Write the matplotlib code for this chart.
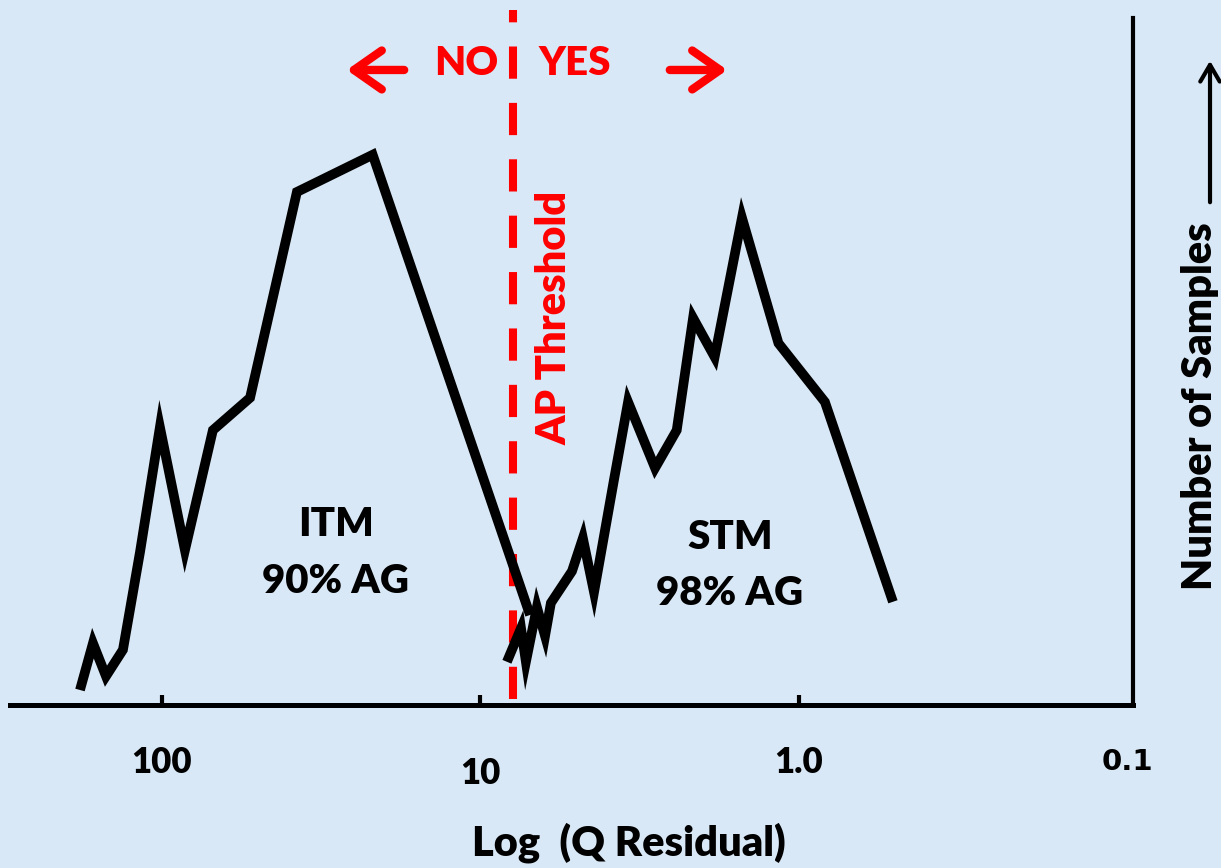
import matplotlib
matplotlib.use('Agg')
import matplotlib.pyplot as plt
from matplotlib.patches import FancyArrowPatch
from matplotlib.transforms import blended_transform_factory

# ITM curve (Q residual, number of samples)
itm_q = [180.9, 164.7, 149.9, 132.6, 117.2, 101.5, 84.7, 69.2, 52.9, 37.7, 21.8, 6.99]
itm_n = [2.5, 10.3, 4.8, 9.2, 25.5, 46.3, 25.8, 45.8, 51.2, 85.5, 91.7, 15.0]

# STM curve
stm_q = [8.26, 7.46, 7.20, 6.65, 6.27, 6.01, 5.16, 4.77, 4.40, 3.81, 3.44, 2.83,
         2.42, 2.15, 1.84, 1.51, 1.16, 0.829, 0.507]
stm_n = [7.2, 12.8, 7.2, 16.3, 11.5, 17.0, 22.3, 27.8, 18.8, 37.5, 50.5, 39.5,
         45.8, 64.5, 58.0, 81.2, 60.3, 50.5, 17.2]

ap_threshold = 7.9
tick_vals = [100, 10, 1, 0.1]
tick_texts = ['100', '10', '1.0', '0.1']

bg = '#d9e8f6'
red = '#ff0000'
font = 'Lato'
w = 'heavy'

fig = plt.figure(figsize=(12.21, 8.68), dpi=100, facecolor=bg)
ax = fig.add_axes([0.0082, 0.1878, 0.9197, 0.7915])
ax.set_facecolor(bg)
ax.set_xscale('log')
ax.set_xlim(300, 0.0894)
ax.set_ylim(0, 114.5)

ax.plot(itm_q, itm_n, color='black', lw=7, solid_joinstyle='miter', solid_capstyle='butt')
ax.plot(stm_q, stm_n, color='black', lw=7, solid_joinstyle='miter', solid_capstyle='butt')

# threshold line (runs past the top of the axes)
ax.plot([ap_threshold, ap_threshold], [0.0087, 1.0116], color=red, lw=5.8,
        dashes=(4, 3), transform=blended_transform_factory(ax.transData, ax.transAxes),
        clip_on=False, zorder=1)

for s in ['top', 'left']:
    ax.spines[s].set_visible(False)
ax.spines['bottom'].set_linewidth(3.6)
ax.spines['right'].set_linewidth(3.0)

ax.set_yticks([])
ax.set_xticks(tick_vals)
ax.set_xticklabels([])
ax.minorticks_off()
ax.tick_params(axis='x', direction='in', length=7, width=3, color='black')
ax.xaxis.get_major_ticks()[3].tick1line.set_visible(False)

tr = blended_transform_factory(ax.transData, fig.transFigure)
label_y = [0.1221, 0.1083, 0.1221, 0.1221]
for v, t, yy in zip(tick_vals, tick_texts, label_y):
    if t == '0.1':
        ax.text(0.093, yy, t, transform=tr, ha='center', va='center',
                fontsize=21, fontweight='bold', family='DejaVu Sans')
    else:
        ax.text(v, yy, t, transform=tr, ha='center', va='center',
                fontsize=25, fontweight=w, family=font)

fig.text(0.5152, 0.0288, 'Log  (Q Residual)', ha='center', va='center',
         fontsize=30, fontweight=w, family=font)

fig.text(0.2752, 0.3952, 'ITM', ha='center', va='center', fontsize=29, fontweight=w, family=font)
fig.text(0.2744, 0.3295, '90% AG', ha='center', va='center', fontsize=29, fontweight=w, family=font)
fig.text(0.5979, 0.3813, 'STM', ha='center', va='center', fontsize=29, fontweight=w, family=font)
fig.text(0.5979, 0.3168, '98% AG', ha='center', va='center', fontsize=29, fontweight=w, family=font)

fig.text(0.4545, 0.6336, 'AP Threshold', rotation=90, ha='center', va='center',
         fontsize=30, fontweight=w, color=red, family=font)
fig.text(0.3817, 0.9274, 'NO', ha='center', va='center', fontsize=29, fontweight=w, color=red, family=font)
fig.text(0.4709, 0.9274, 'YES', ha='center', va='center', fontsize=29, fontweight=w, color=red, family=font)

head = '->,head_length=1.0,head_width=0.7'
fig.patches.append(FancyArrowPatch((0.3333, 0.9194), (0.2817, 0.9194), transform=fig.transFigure,
                                   arrowstyle=head, color=red, lw=6, mutation_scale=20))
fig.patches.append(FancyArrowPatch((0.5463, 0.9194), (0.5979, 0.9194), transform=fig.transFigure,
                                   arrowstyle=head, color=red, lw=6, mutation_scale=20))

fig.text(0.9828, 0.5323, 'Number of Samples', rotation=90, ha='center', va='center',
         fontsize=30, fontweight=w, family=font)
fig.patches.append(FancyArrowPatch((0.991, 0.7638), (0.991, 0.9332), transform=fig.transFigure,
                                   arrowstyle='->,head_length=0.6,head_width=0.35',
                                   color='black', lw=3, mutation_scale=20))

fig.savefig('out.png', dpi=100, facecolor=bg)
